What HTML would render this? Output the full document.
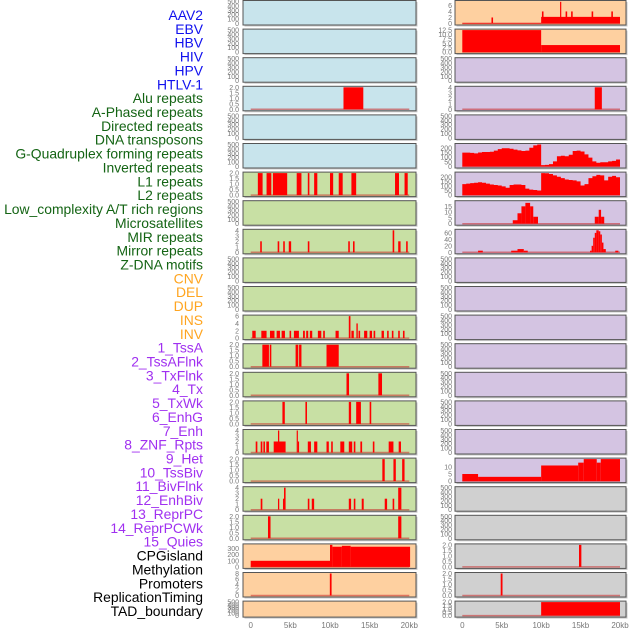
<!DOCTYPE html>
<html><head><meta charset="utf-8">
<style>
html,body{margin:0;padding:0;background:#fff;}
svg{display:block;font-family:"Liberation Sans",sans-serif;}
.lab{font-size:13.9px;text-anchor:end;}
.tk{font-size:7px;fill:#777;text-anchor:end;}
.xt{font-size:8px;fill:#777;text-anchor:middle;}
</style></head>
<body>
<svg id="c" width="630" height="630" viewBox="0 0 630 630"></svg>
<script>
// ---- data (kb segments [start,end,value] or 0.5kb bins) ----
const trackLabels = ["AAV2","EBV","HBV","HIV","HPV","HTLV-1","Alu repeats","A-Phased repeats","Directed repeats","DNA transposons","G-Quadruplex forming repeats","Inverted repeats","L1 repeats","L2 repeats","Low_complexity A/T rich regions","Microsatellites","MIR repeats","Mirror repeats","Z-DNA motifs","CNV","DEL","DUP","INS","INV","1_TssA","2_TssAFlnk","3_TxFlnk","4_Tx","5_TxWk","6_EnhG","7_Enh","8_ZNF_Rpts","9_Het","10_TssBiv","11_BivFlnk","12_EnhBiv","13_ReprPC","14_ReprPCWk","15_Quies","CPGisland","Methylation","Promoters","ReplicationTiming","TAD_boundary"];
const labelColors = ["#1010ee","#1010ee","#1010ee","#1010ee","#1010ee","#1010ee","#146414","#146414","#146414","#146414","#146414","#146414","#146414","#146414","#146414","#146414","#146414","#146414","#146414","#ffa520","#ffa520","#ffa520","#ffa520","#ffa520","#a030f0","#a030f0","#a030f0","#a030f0","#a030f0","#a030f0","#a030f0","#a030f0","#a030f0","#a030f0","#a030f0","#a030f0","#a030f0","#a030f0","#a030f0","#000","#000","#000","#000","#000"];
const xTickValues = [0,5,10,15,20];
const xTickLabels = ["0","5kb","10kb","15kb","20kb"];
const emptyTicks = [0,100,200,300,400,500];

const aav2Right = [[0,10,0.2],[3.7,3.9,2],[10,20,2.2],[10.1,10.3,4],[12.4,12.55,7.2],[13.1,13.3,4],[13.8,14,4],[16.4,16.6,4],[18.9,19.1,4]];
const ebvRight = [[0,10,12.5],[10,20,4]];
const aluLeft = [[11.7,14.2,2]];
const aluRight = [[16.8,17.7,4]];
const gquadRight = [148,148,145,140,150,155,155,158,170,185,195,195,190,180,172,165,170,200,225,235,15,18,25,55,110,115,110,125,165,170,160,130,95,55,40,45,45,55,60,75];
const l1Left = [[0.9,1.5,2],[2.0,2.6,2],[2.8,4.6,2],[5.8,6.4,2],[7.2,7.4,2],[8.0,8.4,2],[10.0,10.4,2],[11.1,11.6,2],[12.7,13.3,2],[18.2,18.7,2],[19.4,19.8,2]];
const l1Right = [120,125,130,135,140,135,125,115,110,105,95,80,110,115,115,110,70,60,55,50,240,238,230,215,200,185,170,165,160,150,105,120,185,205,220,215,160,200,210,195];
const microRight = [[6.4,7.0,3],[7.0,7.5,9],[7.5,8.0,15],[8.0,8.6,18],[8.6,9.0,15],[9.0,9.6,6],[16.8,17.3,6],[17.3,17.6,12],[17.6,18.0,6]];
const mirLeft = [[1.2,1.4,2],[3.4,3.6,2],[4.1,4.3,2],[4.8,5.1,2],[7.2,7.4,2],[12.3,12.5,2],[12.9,13.1,2],[17.9,18.1,4],[18.6,18.9,2],[19.6,19.8,2]];
const mirRight = [[2,2.6,5],[6.2,7.0,5],[7.0,7.8,10],[7.8,8.3,5],[16.2,16.4,5],[16.4,16.6,20],[16.6,16.8,45],[16.8,17.0,60],[17.0,17.3,68],[17.3,17.5,65],[17.5,17.7,55],[17.7,17.9,30],[17.9,18.2,10],[19.4,19.8,5]];
const insLeft = [[0.2,0.63,2],[1.34,2.0,2],[2.43,3.0,2],[3.27,3.69,2],[3.9,4.32,2],[4.9,5.1,2],[5.45,6.08,2],[6.6,6.83,2],[7.0,7.25,2],[7.46,7.76,2],[8.47,8.9,2],[9.14,9.35,2],[10.7,11.1,2],[12.37,12.58,6],[12.7,13.0,2],[13.33,13.5,4],[13.6,13.8,2],[14.3,14.7,2],[15.0,15.3,2],[15.5,15.7,2],[16.5,16.8,2],[17.2,17.4,2],[17.8,18.0,2],[18.6,18.8,2],[19.2,19.4,2]];
const tssALeft = [[1.47,2.3,2],[2.4,2.6,2],[5.66,6.0,2],[6.1,6.4,2],[9.56,11.1,2]];
const tssAFlnkLeft = [[12.08,12.4,2],[16.1,16.56,2]];
const txFlnkLeft = [[4.0,4.3,2],[6.9,7.1,2],[12.37,12.66,2],[13.3,13.9,2],[15.0,15.2,2]];
const txLeft = [[0.63,0.84,2],[1.26,1.47,2],[1.6,1.8,2],[1.97,2.3,2],[2.9,4.4,2],[3.44,3.6,4],[5.8,5.95,4],[5.95,6.1,2],[7.2,7.6,2],[8.0,8.4,2],[9.56,9.85,2],[10.15,10.35,2],[11.3,11.8,2],[12.37,12.8,2],[13.0,13.2,2],[13.83,14.05,2],[15.4,15.6,2],[17.4,18.0,2],[18.66,18.95,2]];
const txWkLeft = [[16.6,16.9,2],[18.0,18.3,2],[19.1,19.4,2]];
const txWkRight = [[0,2,5],[2,10,3],[10,14.7,11],[14.7,15.4,13],[15.4,17.05,15.5],[17.05,17.56,13],[17.56,20,15.5]];
const enhGLeft = [[1.26,1.47,2],[3.44,3.6,2],[4.07,4.2,2],[4.2,4.4,4],[7.2,7.4,2],[7.7,8.0,2],[12.37,12.66,2],[13.0,13.2,2],[14.0,14.25,2],[16.9,17.2,2],[17.9,18.1,2],[18.6,19.0,4]];
const enhLeft = [[2.18,2.5,2],[18.6,19.0,2]];
const cpgLeft = [[0,10,100],[10,10.3,360],[10.3,11.5,330],[11.5,12.6,345],[12.6,20.1,330]];
const cpgRight = [[14.8,15.1,2]];
const methLeft = [[9.98,10.2,8]];
const methRight = [[4.87,5.1,2]];
const tadRight = [[10,20,2]];

const BLUE="#c8e4ec",GREEN="#c8e0a4",ORANGE="#fed0a0",PURPLE="#d4c4e2",GRAY="#d0d0d0";
const h05=[0,0.5,1,1.5,2], i4=[0,1,2,3,4];
const layout = [
 [[BLUE,null],[ORANGE,aav2Right,7.3,[0,2,4,6]]],
 [[BLUE,null],[ORANGE,ebvRight,12.5,[0,2.5,5,7.5,10,12.5]]],
 [[BLUE,null],[PURPLE,null]],
 [[BLUE,aluLeft,2,h05],[PURPLE,aluRight,4,i4]],
 [[BLUE,null],[PURPLE,null]],
 [[BLUE,null],[PURPLE,gquadRight,235,[0,50,100,150,200]]],
 [[GREEN,l1Left,2,h05],[PURPLE,l1Right,240,[0,50,100,150,200]]],
 [[GREEN,null],[PURPLE,microRight,19,[0,5,10,15]]],
 [[GREEN,mirLeft,4,i4],[PURPLE,mirRight,68,[0,20,40,60]]],
 [[GREEN,null],[PURPLE,null]],
 [[GREEN,null],[PURPLE,null]],
 [[GREEN,insLeft,6,[0,2,4,6]],[PURPLE,null]],
 [[GREEN,tssALeft,2,h05],[PURPLE,null]],
 [[GREEN,tssAFlnkLeft,2,h05],[PURPLE,null]],
 [[GREEN,txFlnkLeft,2,h05],[PURPLE,null]],
 [[GREEN,txLeft,4,i4],[PURPLE,null]],
 [[GREEN,txWkLeft,2,h05],[PURPLE,txWkRight,15.5,[0,5,10]]],
 [[GREEN,enhGLeft,4,i4],[GRAY,null]],
 [[GREEN,enhLeft,2,h05],[GRAY,null]],
 [[ORANGE,cpgLeft,360,[0,100,200,300]],[GRAY,cpgRight,2,h05]],
 [[ORANGE,methLeft,8,[0,2,4,6,8]],[GRAY,methRight,2,h05]],
 [[ORANGE,null],[GRAY,tadRight,2,h05]]
];

const NS="http://www.w3.org/2000/svg";
const svg=document.getElementById('c');
function mk(tag,attrs,parent){const e=document.createElementNS(NS,tag);for(const k in attrs)e.setAttribute(k,attrs[k]);(parent||svg).appendChild(e);return e;}

// labels
trackLabels.forEach((t,i)=>{
  const e=mk('text',{x:203,y:20+i*13.86,'class':'lab',fill:labelColors[i]});
  e.textContent=t;
  
  
});

const cols=[{px0:243,px1:416,x0:250.7,sc:7.93,tx:239},{px0:455,px1:626,x0:462.3,sc:7.885,tx:452}];
layout.forEach((row,ri)=>{
  const top=ri*28.6+0.5, h=(ri===layout.length-1)?16:24.5;
  row.forEach((cell,ci)=>{
    const c=cols[ci];
    const g=mk('g',{});
    
    
    mk('rect',{x:c.px0+1.5,y:top+1.5,width:c.px1-c.px0,height:h,fill:'#c8c8c8'},g);
    mk('rect',{x:c.px0,y:top,width:c.px1-c.px0,height:h,fill:cell[0],stroke:'#555','stroke-width':1},g);
    const data=cell[1];
    const ymax=data?cell[2]:500, ticks=data?cell[3]:emptyTicks;
    const yb=top+h-1.5, yt=top+1;
    const Y=v=>yb-(v/ymax)*(yb-yt);
    const X=kb=>c.x0+kb*c.sc;
    ticks.forEach(t=>{
      const e=mk('text',{x:c.tx,y:Y(t)+2.5,'class':'tk'},g);
      e.textContent=String(t%1===0&&ticks.some(v=>v%1!==0)?t.toFixed(1):t);
      
      
    });
    if(!data)return;
    mk('line',{x1:X(0),x2:X(20),y1:yb,y2:yb,stroke:'rgba(200,40,40,0.55)','stroke-width':1.5},g);
    if(typeof data[0]==='number'){
      let d='M'+X(0)+','+yb;
      data.forEach((v,i)=>{d+=' L'+X(i*0.5)+','+Y(v)+' L'+X(i*0.5+0.5)+','+Y(v);});
      d+=' L'+X(data.length*0.5)+','+yb+' Z';
      const p=mk('path',{d:d,fill:'#ff0000'},g);
      
      
    } else {
      data.forEach(s=>{
        const r=mk('rect',{x:X(s[0]),y:Y(s[2]),width:Math.max(1,X(s[1])-X(s[0])),height:yb-Y(s[2]),fill:'#ff0000'},g);
        
        
      });
    }
  });
});
cols.forEach(c=>{
  xTickValues.forEach((v,i)=>{
    const e=mk('text',{x:c.x0+v*c.sc,y:628,'class':'xt'});
    e.textContent=xTickLabels[i];
    
    
  });
});
</script>
</body></html>
